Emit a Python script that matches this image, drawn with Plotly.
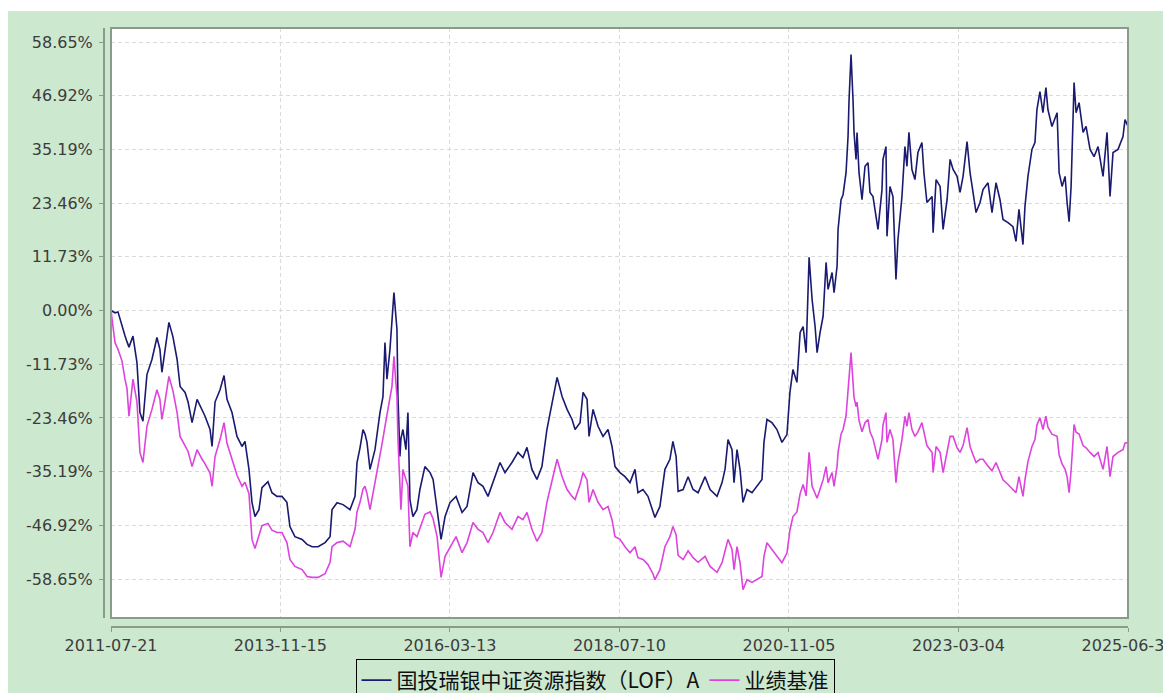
import plotly.graph_objects as go

dates = [
    "2011-07-21", "2011-08-10", "2011-08-25", "2011-09-14", "2011-09-29", "2011-10-09", "2011-10-19", "2011-11-08",
    "2011-11-28", "2011-12-13", "2011-12-28", "2012-01-17", "2012-02-11", "2012-03-07", "2012-03-22", "2012-04-01",
    "2012-04-16", "2012-05-06", "2012-05-26", "2012-06-16", "2012-07-01", "2012-07-26", "2012-08-10", "2012-08-30",
    "2012-09-24", "2012-10-19", "2012-11-03", "2012-11-28", "2012-12-08", "2012-12-23", "2013-01-17", "2013-02-06",
    "2013-02-21", "2013-03-18", "2013-04-12", "2013-05-07", "2013-05-22", "2013-06-11", "2013-06-26", "2013-07-11",
    "2013-07-31", "2013-08-15", "2013-09-14", "2013-10-04", "2013-10-29", "2013-11-23", "2013-12-18", "2014-01-02",
    "2014-01-27", "2014-03-04", "2014-03-29", "2014-04-23", "2014-05-23", "2014-06-27", "2014-07-22", "2014-08-01",
    "2014-08-26", "2014-09-25", "2014-10-30", "2014-11-24", "2014-12-04", "2014-12-19", "2015-01-03", "2015-01-13",
    "2015-01-23", "2015-02-07", "2015-03-04", "2015-03-29", "2015-04-13", "2015-04-23", "2015-05-03", "2015-05-18",
    "2015-05-28", "2015-06-07", "2015-06-22", "2015-06-27", "2015-07-07", "2015-07-12", "2015-07-22", "2015-08-06",
    "2015-08-16", "2015-08-26", "2015-09-10", "2015-09-30", "2015-10-15", "2015-11-09", "2015-12-05", "2015-12-20",
    "2016-01-09", "2016-01-29", "2016-02-18", "2016-03-14", "2016-04-13", "2016-05-13", "2016-06-07", "2016-07-07",
    "2016-08-01", "2016-08-26", "2016-09-20", "2016-10-15", "2016-11-19", "2016-12-14", "2017-01-18", "2017-02-17",
    "2017-03-14", "2017-04-03", "2017-04-28", "2017-05-23", "2017-06-17", "2017-07-12", "2017-08-07", "2017-09-01",
    "2017-09-26", "2017-10-21", "2017-11-15", "2017-11-30", "2017-12-25", "2018-01-09", "2018-01-29", "2018-02-08",
    "2018-02-28", "2018-03-25", "2018-04-19", "2018-05-14", "2018-06-03", "2018-06-18", "2018-07-13", "2018-08-07",
    "2018-09-01", "2018-09-26", "2018-10-11", "2018-11-05", "2018-11-30", "2018-12-25", "2019-01-04", "2019-01-29",
    "2019-02-23", "2019-03-20", "2019-04-04", "2019-04-20", "2019-04-30", "2019-05-25", "2019-06-19", "2019-07-14",
    "2019-08-08", "2019-09-12", "2019-10-07", "2019-11-11", "2019-12-06", "2019-12-21", "2020-01-05", "2020-01-25",
    "2020-02-04", "2020-02-19", "2020-03-05", "2020-03-20", "2020-04-09", "2020-05-04", "2020-05-29", "2020-06-23",
    "2020-07-03", "2020-07-18", "2020-08-12", "2020-09-06", "2020-10-01", "2020-10-26", "2020-11-10", "2020-11-25",
    "2020-12-15", "2020-12-31", "2021-01-15", "2021-01-30", "2021-02-14", "2021-03-01", "2021-03-16", "2021-03-26",
    "2021-04-10", "2021-04-25", "2021-05-10", "2021-05-20", "2021-06-09", "2021-06-19", "2021-07-04", "2021-07-09",
    "2021-07-24", "2021-08-03", "2021-08-18", "2021-08-28", "2021-09-02", "2021-09-12", "2021-09-22", "2021-09-27",
    "2021-10-07", "2021-10-12", "2021-10-22", "2021-11-06", "2021-11-21", "2021-12-06", "2021-12-16", "2021-12-31",
    "2022-01-25", "2022-02-14", "2022-02-19", "2022-03-06", "2022-03-11", "2022-03-26", "2022-04-10", "2022-04-25",
    "2022-05-05", "2022-05-25", "2022-06-09", "2022-06-19", "2022-06-29", "2022-07-14", "2022-07-29", "2022-08-13",
    "2022-09-02", "2022-09-12", "2022-09-27", "2022-10-23", "2022-10-28", "2022-11-12", "2022-12-02", "2022-12-17",
    "2023-01-06", "2023-01-21", "2023-02-05", "2023-02-25", "2023-03-12", "2023-03-27", "2023-04-16", "2023-05-01",
    "2023-05-16", "2023-05-31", "2023-06-20", "2023-07-05", "2023-07-30", "2023-08-19", "2023-09-08", "2023-09-28",
    "2023-10-13", "2023-11-07", "2023-12-02", "2023-12-17", "2024-01-01", "2024-01-21", "2024-01-31", "2024-02-15",
    "2024-03-06", "2024-03-21", "2024-03-31", "2024-04-15", "2024-04-30", "2024-05-15", "2024-05-25", "2024-06-14",
    "2024-07-10", "2024-07-20", "2024-08-04", "2024-08-19", "2024-08-29", "2024-09-08", "2024-09-18", "2024-09-28",
    "2024-10-03", "2024-10-13", "2024-10-28", "2024-11-17", "2024-12-02", "2024-12-22", "2025-01-11", "2025-01-31",
    "2025-02-25", "2025-03-17", "2025-04-01", "2025-04-16", "2025-05-11", "2025-06-05", "2025-06-15", "2025-06-30",
]

fund = [
    0, -0.5, -0.3, -3.5, -5.5, -6.8, -8, -5.6,
    -11.4, -22.3, -24.2, -14, -10.7, -5.9, -8.5, -13.5,
    -8.5, -2.6, -5.7, -10.7, -16.6, -17.9, -20, -24.5,
    -19.4, -21.6, -23.1, -26, -29.7, -20, -17.3, -14.2,
    -19.4, -22.3, -27.5, -29.7, -28.6, -34.7, -41.9, -45,
    -43.5, -38.7, -37.4, -39.8, -40.6, -40.6, -41.9, -47.2,
    -49.4, -50, -51.1, -51.6, -51.6, -50.7, -49.4, -43.5,
    -42, -42.4, -43.5, -40.6, -33.2, -30, -26, -27,
    -28.8, -34.7, -30.4, -22.3, -18.8, -7, -15, -8.5,
    -2.6, 3.9, -4.1, -18.8, -31.9, -28, -26, -30.4,
    -22.3, -41.3, -45, -43.5, -39.1, -34.1, -35.4, -36.9,
    -43.5, -50, -45, -41.9, -40.6, -44.1, -42.8, -35.4,
    -37.6, -38.4, -40.6, -37.6, -33.2, -35.4, -33.2, -31,
    -32.1, -29.9, -34.7, -36.9, -34.1, -26, -20, -14.6,
    -18.8, -21.6, -23.8, -26, -24.5, -17.9, -19.4, -27.5,
    -21.6, -25.3, -27.5, -26, -29.7, -34.1, -35.4, -36.3,
    -37.6, -34.7, -39.8, -39.1, -40.6, -44.1, -45.2, -42.8,
    -34.7, -32.5, -28.6, -31.9, -39.5, -39.1, -36.3, -39.1,
    -39.8, -36.3, -39.1, -40.6, -37.6, -34.7, -28.2, -30.4,
    -37.6, -30.4, -34.7, -41.9, -39.1, -39.8, -38.4, -36.9,
    -28.8, -23.8, -24.5, -26, -28.8, -27.1, -17.9, -12.9,
    -15.7, -4.8, -3.5, -9.2, 11.6, 2.4, -3.5, -9.2,
    -4.8, -1.3, 10.5, 4.6, 8.3, 3.9, 9.6, 17.7,
    24.2, 25.3, 30.1, 38, 46, 55.9, 46, 38.9,
    33, 38.9, 30.1, 24.2, 31.5, 32.3, 25.8, 24.9,
    17.7, 26.4, 33, 35.8, 16.2, 27.1, 24.9, 6.8,
    15.5, 24.9, 35.8, 31.5, 38.9, 30.8, 28.6, 34.5,
    36.7, 30.1, 23.6, 24.9, 17, 28.6, 27.1, 17.7,
    24.2, 33, 30.8, 29.3, 25.8, 29.3, 36.9, 30.1,
    25.8, 21.4, 23.6, 26.4, 27.9, 21.4, 27.9, 24.2,
    19.9, 19.2, 18.3, 15.1, 22.1, 14.4, 22.7, 29.3,
    35.2, 36.7, 43.9, 47.8, 43.2, 48.7, 43.9, 40.2,
    43.2, 30.1, 27.1, 29.3, 23.6, 19.4, 27.1, 41.7,
    49.8, 43.2, 45.4, 38.9, 40.2, 35.2, 33.6, 35.8,
    29.3, 38.9, 24.9, 34.5, 35.2, 38, 41.7, 40.2,
]

benchmark = [
    0, -7, -8.5, -11, -15, -17, -23.1, -15,
    -20, -31, -33.2, -25.3, -21.6, -17.3, -19.4, -23.8,
    -20, -14.4, -17.5, -22.3, -27.5, -29.7, -30.8, -34.1,
    -30.4, -32.5, -33.5, -35.5, -38.4, -31.9, -28.2, -24.5,
    -29, -32.5, -36, -38.4, -37.5, -40, -50, -52,
    -49, -47, -46.5, -48, -48.5, -48.5, -50.7, -54.4,
    -55.9, -56.6, -58.1, -58.3, -58.3, -57.5, -55, -51.6,
    -50.7, -50.4, -51.6, -47.8, -44, -41.9, -39, -38.4,
    -40, -43.5, -37.6, -31.9, -28, -25.3, -23, -19,
    -16.6, -10, -18.8, -28, -40, -43.5, -34.7, -37,
    -38.4, -51.6, -48.5, -49.4, -47.5, -44.5, -44, -45.5,
    -49.4, -58.3, -53.7, -51.6, -49.4, -52.9, -50.7, -46.3,
    -47.8, -48.5, -50.7, -48.5, -44.1, -46.3, -47.8, -45,
    -45.7, -44.1, -47.8, -50.4, -48.5, -41.9, -36.9, -32.5,
    -36.3, -39.1, -40.6, -41.3, -38, -35.4, -37, -41.9,
    -39.1, -41.9, -43.5, -42.8, -45.7, -49.4, -50, -51.6,
    -52.9, -51.6, -54, -54.4, -55.5, -57.5, -58.8, -56.6,
    -51.6, -49.4, -47.2, -49, -53.5, -54.4, -52.5, -54,
    -55, -53.7, -55.9, -57.2, -55.1, -52.2, -50, -52.2,
    -56.6, -51.6, -55.1, -61, -58.8, -59.4, -58.8, -58.1,
    -53.7, -50.7, -52.2, -53.7, -55.1, -53, -48, -45,
    -44, -40, -38, -40.5, -31, -38.4, -40, -41,
    -39, -37, -34.1, -37.6, -35.4, -38.4, -34, -31,
    -27, -26, -23, -18, -15, -9.2, -15.7, -19,
    -21, -20, -24, -26.5, -24.5, -23.8, -26.5, -28,
    -32.5, -28.2, -25, -22.3, -28.8, -26, -28.2, -37.6,
    -33.2, -28.2, -23.1, -25.3, -22.3, -26, -27.5, -26.5,
    -24.5, -26.5, -29.5, -31, -35.4, -29.7, -31, -35.4,
    -31, -27.5, -27.5, -30, -31, -29.5, -25.6, -29.7,
    -31.5, -33.2, -32.5, -32.5, -34, -35, -33.2, -35.4,
    -37, -38, -39, -39.8, -36.3, -40.6, -37, -33,
    -29.7, -28.2, -25, -23.4, -26, -23.1, -25.5, -27,
    -27.5, -31.5, -33.5, -34.7, -36.3, -39.8, -35, -28,
    -24.9, -26.6, -27, -29.5, -30, -31, -31.9, -31,
    -34.7, -29.7, -36.3, -31.9, -31, -30.4, -29, -28.8,
]

series_names = ["国投瑞银中证资源指数（LOF）A", "业绩基准"]
ytick_vals = [-58.65, -46.92, -35.19, -23.46, -11.73, 0.0, 11.73, 23.46, 35.19, 46.92, 58.65]
ytick_text = [f"{v:.2f}%" for v in ytick_vals]
xtick_vals = ["2011-07-21", "2013-11-15", "2016-03-13", "2018-07-10", "2020-11-05", "2023-03-04", "2025-06-30"]

GREEN = "#CCE8CF"
AXIS = "#8A9B8B"
GRID = "#DADADA"
TICKFONT = dict(family="DejaVu Sans", size=16, color="#3C3C3C")

fig = go.Figure()
fig.add_trace(go.Scatter(x=dates, y=fund, mode="lines", name=series_names[0],
                         line=dict(color="#1A1A70", width=1.6)))
fig.add_trace(go.Scatter(x=dates, y=benchmark, mode="lines", name=series_names[1],
                         line=dict(color="#DD44DD", width=1.6)))

fig.update_layout(
    width=1179, height=693, autosize=False,
    margin=dict(l=96, r=59, t=20, b=74, autoexpand=False),
    paper_bgcolor=GREEN, plot_bgcolor="white",
    showlegend=True,
    legend=dict(orientation="h", x=0.4795, xanchor="center", y=-0.0534, yanchor="top",
                bordercolor="#000000", borderwidth=1, bgcolor="rgba(0,0,0,0)",
                font=dict(family="Noto Sans CJK SC", size=21, color="#111111"),
                itemwidth=30, tracegroupgap=0),
    xaxis=dict(type="date", range=["2011-07-21", "2025-06-30"], domain=[7 / 1024, 1],
               anchor="free", position=0, showline=True, linecolor=AXIS, linewidth=2,
               ticks="outside", ticklen=4, tickcolor=AXIS, tickvals=xtick_vals, ticktext=xtick_vals,
               showgrid=True, gridcolor=GRID, griddash="4px,3px", gridwidth=1,
               tickfont=TICKFONT, automargin=False, zeroline=False, ticklabeloverflow="allow"),
    yaxis=dict(range=[-67.17, 61.71], domain=[9 / 599, 1], anchor="free", position=0,
               showline=True, linecolor=AXIS, linewidth=2,
               ticks="outside", ticklen=4, tickcolor=AXIS, tickvals=ytick_vals, ticktext=ytick_text,
               showgrid=True, gridcolor=GRID, griddash="4px,3px", gridwidth=1, ticklabelstandoff=3,
               tickfont=TICKFONT, automargin=False, zeroline=False),
    shapes=[
        dict(type="rect", xref="x domain", yref="y domain", x0=0, x1=1, y0=0, y1=1,
             line=dict(color=AXIS, width=2), layer="above"),
        dict(type="rect", xref="paper", yref="paper", x0=-0.2, x1=1.1, y0=(619 - 3) / 599, y1=1.1,
             fillcolor="white", line=dict(width=0), layer="above"),
    ],
)

fig.write_html("out.html")
